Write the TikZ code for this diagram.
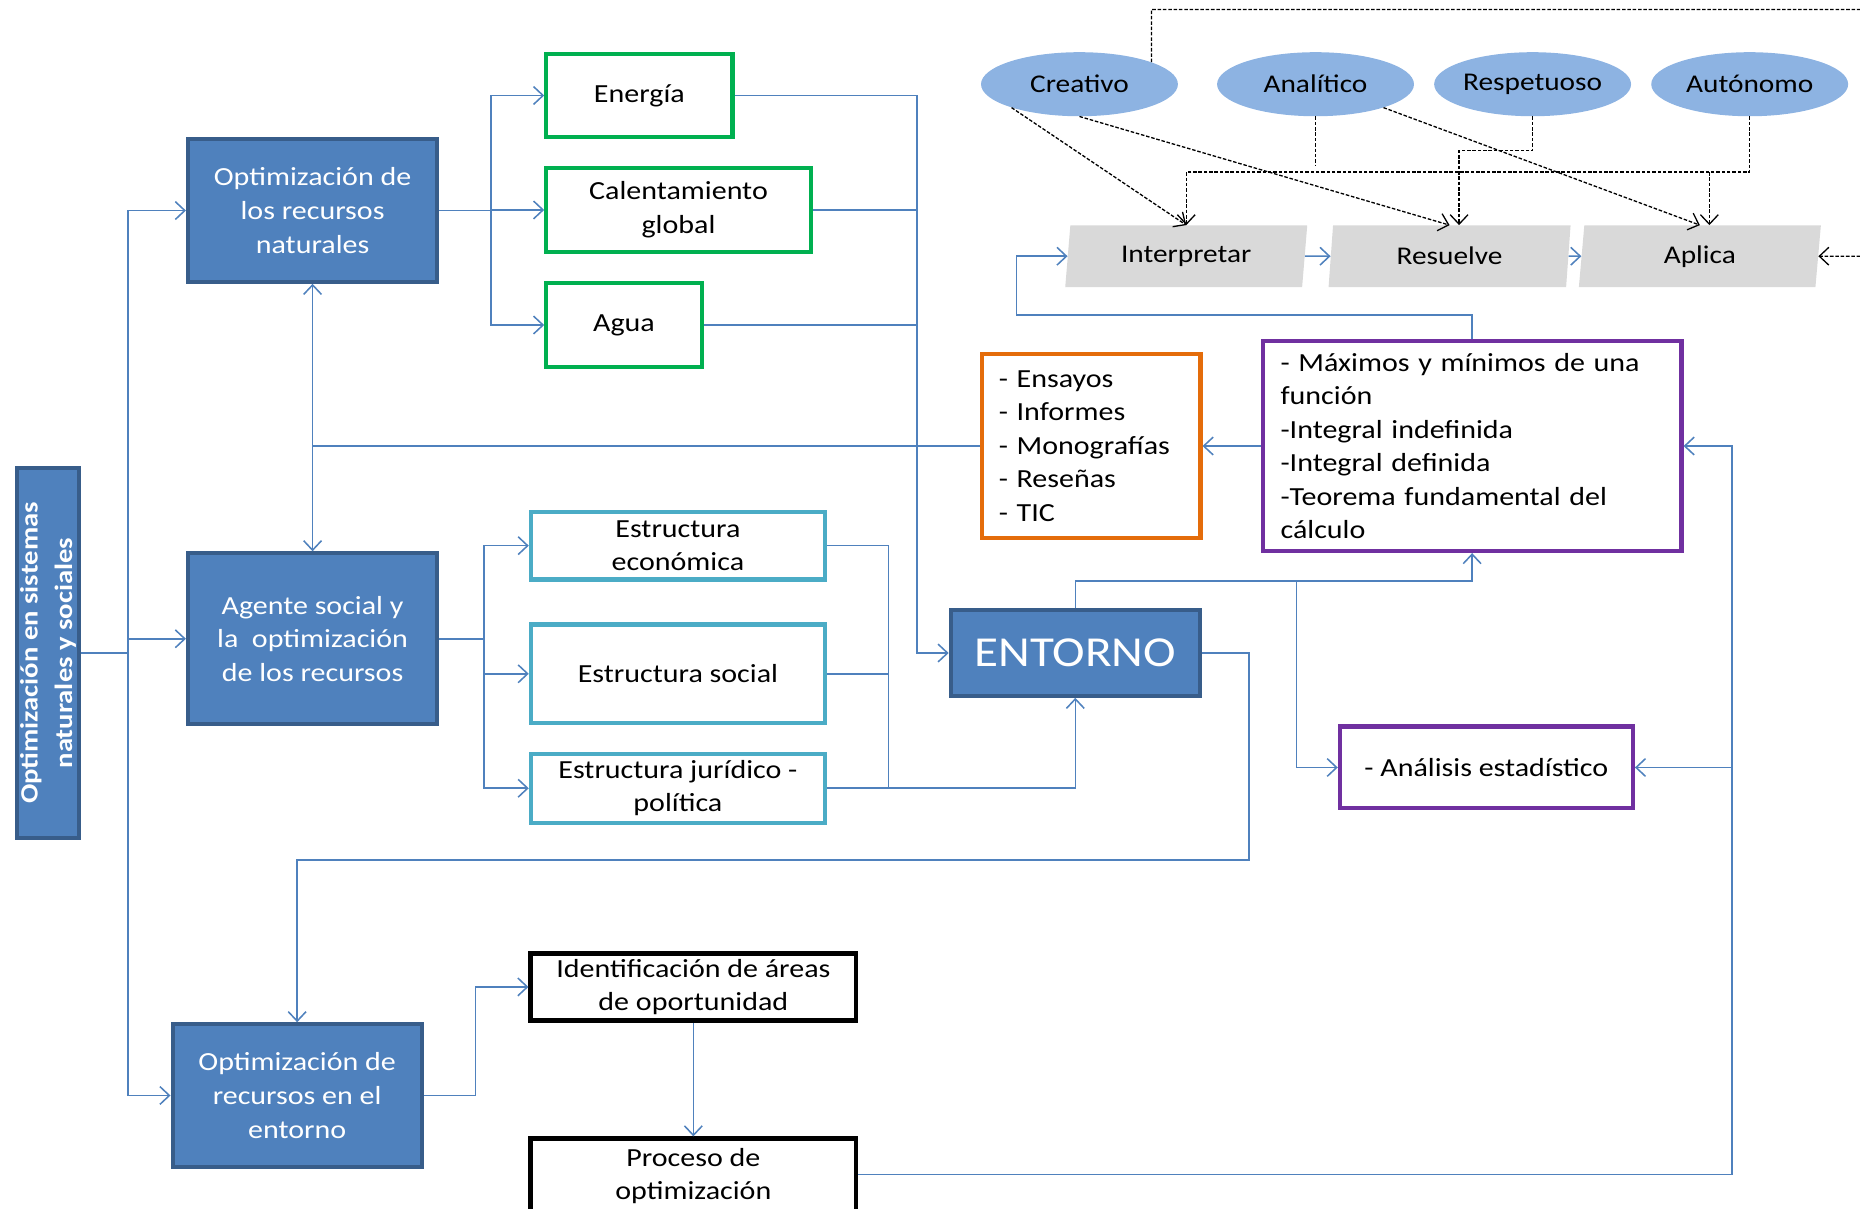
\documentclass[tikz,border=0pt]{standalone}
\usepackage{fontspec}
\setmainfont{Carlito}[FakeStretch=1.15]
\usepackage{tikz}
\usetikzlibrary{arrows.meta,shapes.geometric}

\definecolor{azul}{HTML}{4F81BD}
\definecolor{azulborde}{HTML}{385D8A}
\definecolor{linea}{HTML}{4F81BD}
\definecolor{verde}{HTML}{00B050}
\definecolor{turquesa}{HTML}{4BACC6}
\definecolor{naranja}{HTML}{E46C0A}
\definecolor{morado}{HTML}{7030A0}
\definecolor{celeste}{HTML}{8DB3E2}
\definecolor{gris}{HTML}{D9D9D9}

\begin{document}
\begin{tikzpicture}[x=1pt, y=-1pt,
	>={Straight Barb[length=8pt,width=15pt]},
	every node/.style={font=\fontsize{22}{28.3}\selectfont, align=center, inner sep=0pt},
	azulbox/.style={draw=azulborde, fill=azul, line width=3.5pt, text=white},
	caja/.style={draw=#1, fill=white, line width=3.5pt},
	conn/.style={draw=linea, line width=1.3pt},
	trazo/.style={draw=black, line width=1.1pt, dash pattern=on 3pt off 1.5pt},
	rasgo/.style={ellipse, fill=celeste, minimum width=166pt, minimum height=54pt, font=\fontsize{21.5}{24}\selectfont},
	paso/.style={trapezium, trapezium left angle=76, trapezium right angle=104, trapezium stretches body, fill=gris, minimum width=204pt, minimum height=52pt, font=\fontsize{21.5}{24}\selectfont}]
			\useasboundingbox (0,0) rectangle (1568,1019);
			\clip (0,0) rectangle (1568,1019);

			\node[azulbox, rotate=90, minimum width=312pt, minimum height=52pt, font=\bfseries\fontsize{21}{29}\selectfont] (sistemas) at (40.5,550.5) {Optimización en sistemas\\naturales y sociales};
			\node[azulbox, minimum width=210pt, minimum height=120pt] (optnat) at (263.5,177.5) {Optimización de\\los recursos\\naturales};
			\node[azulbox, minimum width=210pt, minimum height=144pt] (agente) at (263.5,538.5) {Agente social y\\la~ optimización\\de los recursos};
			\node[azulbox, minimum width=210pt, minimum height=120pt] (optent) at (250.5,923.5) {Optimización de\\recursos en el\\entorno};
			\node[azulbox, minimum width=210pt, minimum height=72pt, font=\fontsize{36}{40}\selectfont] (entorno) at (906.5,550.5) {ENTORNO};

			\node[caja=verde, minimum width=157pt, minimum height=70pt] (energia) at (539,80.5) {Energía};
			\node[caja=verde, minimum width=223pt, minimum height=71pt] (calent) at (572,177) {Calentamiento\\global};
			\node[caja=verde, minimum width=131pt, minimum height=71pt] (agua) at (526,274) {Agua};

			\node[caja=turquesa, minimum width=248pt, minimum height=57pt] (econ) at (571.5,460) {Estructura\\económica};
			\node[caja=turquesa, minimum width=248pt, minimum height=83pt] (social) at (571.5,568) {Estructura social};
			\node[caja=turquesa, minimum width=248pt, minimum height=58pt] (jurid) at (571.5,664.5) {Estructura jurídico -\\política};

			\node[caja=naranja, minimum height=155pt, text width=156pt, align=left, inner xsep=14pt] (tipos) at (920,376) {- Ensayos\\- Informes\\- Monografías\\- Reseñas\\- TIC};
			\node[caja=morado, minimum height=177pt, text width=323pt, align=left, inner xsep=15pt] (temas) at (1241,376) {- Máximos y mínimos de una\\función\\-Integral indefinida\\-Integral definida\\-Teorema fundamental del\\cálculo};
			\node[caja=morado, minimum width=247pt, minimum height=69pt] (analisis) at (1253,647) {- Análisis estadístico};

			\node[caja=black, line width=4pt, minimum width=274pt, minimum height=57pt] (ident) at (584.5,832) {Identificación de áreas\\de oportunidad};
			\node[caja=black, line width=4pt, minimum width=274pt, minimum height=63pt] (proceso) at (584.5,991.5) {Proceso de\\optimización};

			\node[rasgo] (creativo) at (910,71) {Creativo};
			\node[rasgo] (analitico) at (1109,71) {Analítico};
			\node[rasgo] (respetuoso) at (1292,71) {Respetuoso};
			\node[rasgo] (autonomo) at (1475,71) {Autónomo};

			\node[paso] (interp) at (1000,216) {Interpretar};
			\node[paso] (resuel) at (1222,216) {Resuelve};
			\node[paso] (aplica) at (1433,216) {Aplica};

			\coordinate (t0) at (108,550.5);
			\coordinate (t1) at (414,177.5);
			\coordinate (t2) at (773,550.5);
			\coordinate (t3) at (408,538.5);
			\coordinate (t4) at (749,664.5);
			\coordinate (t5) at (906.5,490);
			\coordinate (t6) at (1093,490);
			\coordinate (t7) at (1053,725);
			\coordinate (t8) at (857,265.5);
			\coordinate (t9) at (401,923.5);
			\coordinate (t10) at (1460,990);
			\coordinate (t11) at (1460,647);

			\draw[conn] (sistemas.south) -- (t0);
			\draw[conn,->] (t0) |- (optnat.west);
			\draw[conn,->] (t0) |- (optent.west);
			\draw[conn,->] (t0 |- agente.west) -- (agente.west);

			\draw[conn] (optnat.east) -- (t1);
			\draw[conn,->] (t1) |- (energia.west);
			\draw[conn,->] (t1) |- (calent.west);
			\draw[conn,->] (t1) |- (agua.west);

			\draw[conn,<->] (optnat.south) -- (agente.north);
			\draw[conn] (tipos.west) -- (tipos.west -| optnat.south);

			\draw[conn,->] (energia.east) -| (t2) -- (entorno.west);
			\draw[conn] (calent.east) -- (calent.east -| t2);
			\draw[conn] (agua.east) -- (agua.east -| t2);

			\draw[conn] (agente.east) -- (t3);
			\draw[conn,->] (t3) |- (econ.west);
			\draw[conn,->] (t3) |- (social.west);
			\draw[conn,->] (t3) |- (jurid.west);

			\draw[conn] (econ.east) -| (t4);
			\draw[conn] (social.east) -- (social.east -| t4);
			\draw[conn,->] (jurid.east) -| (entorno.south);

			\draw[conn,->] (entorno.north) -- (t5) -| (temas.south);
			\draw[conn,->] (t6) |- (analisis.west);
			\draw[conn,->] (entorno.east) -| (t7) -| (optent.north);
			\draw[conn,->] (temas.west) -- (tipos.east);

			\draw[conn,->] (temas.north) |- (t8) |- (interp.west);
			\draw[conn,->] (interp.east) -- (resuel.west);
			\draw[conn,->] (resuel.east) -- (aplica.west);

			\draw[conn,->] (optent.east) -- (t9) |- (ident.west);
			\draw[conn,->] (ident.south) -- (proceso.north);
			\draw[conn,->] (proceso.east |- t10) -- (t10) |- (temas.east);
			\draw[conn,->] (t11) -- (analisis.east);

			\coordinate (d1) at (1600,8);
			\coordinate (d2) at (1600,216);
			\coordinate (d3) at (1109,139);
			\coordinate (d4) at (1292,127);
			\coordinate (d5) at (1475,145);

			\draw[trazo,->] (creativo.17) |- (d1) -- (d2) -- (aplica.east);
			\draw[trazo,->] (creativo.199) -- (interp.north);
			\draw[trazo,->] (creativo.south) -- (resuel.north);
			\draw[trazo,->] (analitico.-19) -- (aplica.north);
			\draw[trazo] (analitico.south) -- (d3);
			\draw[trazo,->] (respetuoso.south) -- (d4) -| ([xshift=8pt]resuel.north);
			\draw[trazo,->] (autonomo.south) -- (d5) -| (interp.north);
			\draw[trazo,->] ([xshift=8pt]aplica.north |- d5) -- ([xshift=8pt]aplica.north);
\end{tikzpicture}
\end{document}
